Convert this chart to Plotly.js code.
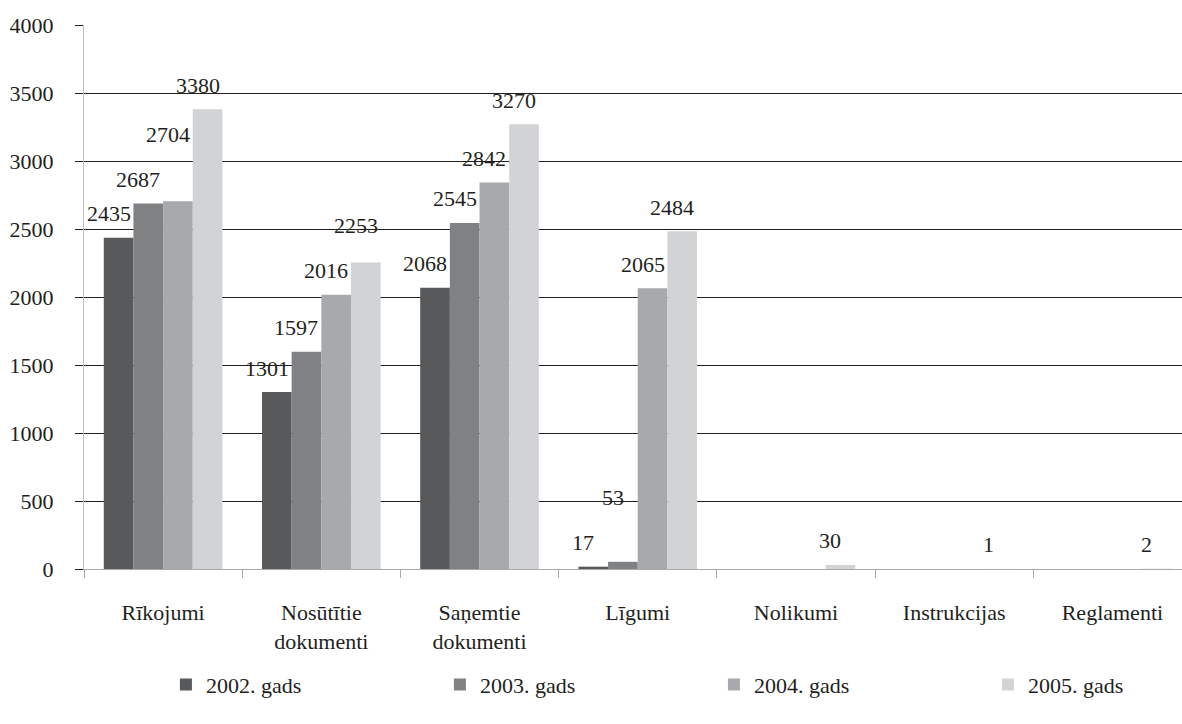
<!DOCTYPE html>
<html>
<head>
<meta charset="utf-8">
<script src="https://cdn.plot.ly/plotly-3.0.1.min.js"></script>
<style>html,body{margin:0;padding:0;background:#fff;}#chart{width:1182px;height:724px;}</style>
</head>
<body>
<div id="chart"></div>
<script>
const categories = ["Rīkojumi", "Nosūtītie<br>dokumenti", "Saņemtie<br>dokumenti", "Līgumi", "Nolikumi", "Instrukcijas", "Reglamenti"];
const seriesNames = ["2002. gads", "2003. gads", "2004. gads", "2005. gads"];
const v2002 = [2435, 1301, 2068, 17, null, null, null];
const v2003 = [2687, 1597, 2545, 53, null, null, null];
const v2004 = [2704, 2016, 2842, 2065, null, null, null];
const v2005 = [3380, 2253, 3270, 2484, 30, 1, 2];
const colors = ["#58595b", "#808183", "#a7a9ac", "#d1d3d4"];

const font = "Liberation Serif, Times New Roman, serif";
const txt = "#231f20";
const FS = 22;
const BARGAP = 0.25;
const all = [v2002, v2003, v2004, v2005];
const traces = all.map((vals, i) => ({
  type: "bar",
  name: seriesNames[i],
  x: categories,
  y: vals,
  marker: {color: colors[i]},
  hoverinfo: "none"
}));

const layout = {
  width: 1182, height: 724,
  margin: {l: 84, r: 0, t: 25, b: 155, autoexpand: false},
  paper_bgcolor: "#fff", plot_bgcolor: "#fff",
  barmode: "group", bargap: BARGAP, bargroupgap: 0,
  font: {family: font, size: FS, color: txt},
  showlegend: true,
  legend: {
    orientation: "h", x: 0.0746, xanchor: "left", y: -0.174, yanchor: "top",
    entrywidth: 229, entrywidthmode: "pixels",
    font: {family: font, size: FS, color: txt},
    traceorder: "normal"
  },
  xaxis: {
    type: "category",
    range: [-0.5, 6.44],
    showline: true, linecolor: "#a7a9ac", linewidth: 1,
    ticks: "outside", tickson: "boundaries", ticklen: 8, tickcolor: "#a7a9ac",
    ticklabelstandoff: 24,
    showgrid: false, zeroline: false,
    tickfont: {family: font, size: FS, color: txt}
  },
  yaxis: {
    range: [0, 4000], dtick: 500,
    showline: true, linecolor: "#bcbec0", linewidth: 1,
    ticks: "outside", ticklen: 8, tickcolor: txt,
    ticklabelstandoff: 17,
    showgrid: true, gridcolor: txt, gridwidth: 1,
    zeroline: false,
    tickfont: {family: font, size: FS, color: txt}
  }
};

const gd = document.getElementById("chart");
Plotly.newPlot(gd, traces, layout, {staticPlot: true, displayModeBar: false}).then(() => {
  const fl = gd._fullLayout;
  const xa = fl.xaxis, ya = fl.yaxis;
  const catW = xa._length / (xa.range[1] - xa.range[0]);
  const barW = catW * (1 - BARGAP) / all.length;
  const LIFT = 24, MINSEP = 33, RAISE = 45;
  const anns = [];
  categories.forEach((c, ci) => {
    let prev = null;
    all.forEach((vals, si) => {
      const v = vals[ci];
      if (v === null) return;
      const top = ya.l2p(v);
      let cy = top - LIFT;
      if (prev !== null && prev - cy < MINSEP) cy = prev - RAISE;
      prev = cy;
      anns.push({
        x: c, y: v, xref: "x", yref: "y",
        text: String(v), showarrow: false,
        xanchor: "center", yanchor: "middle",
        xshift: (si - (all.length - 1) / 2) * barW - 10,
        yshift: top - cy,
        font: {family: font, size: FS, color: txt}
      });
    });
  });
  return Plotly.relayout(gd, {annotations: anns});
});
</script>
</body>
</html>
